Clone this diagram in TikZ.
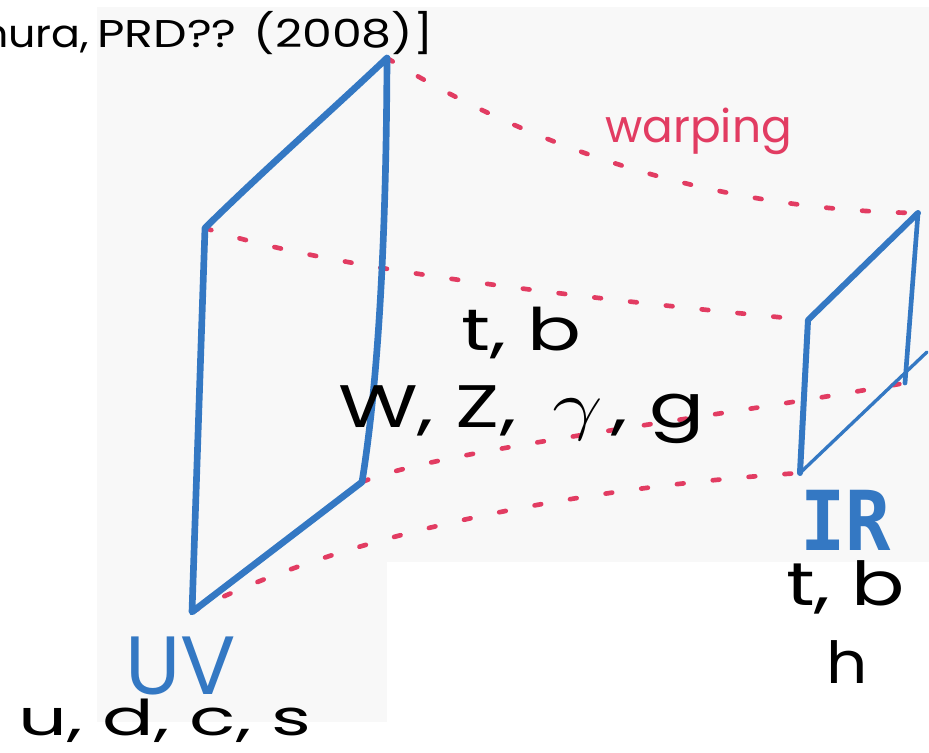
\documentclass[tikz,border=0pt]{standalone}
\usepackage{fontspec}
\setmainfont{Poppins}
\newfontfamily\monofont{DejaVu Sans Mono}
\usepackage{graphicx}
\definecolor{penblue}{RGB}{52,120,195}
\definecolor{penred}{RGB}{226,60,98}
\definecolor{paper}{RGB}{248,248,248}
\begin{document}
\begin{tikzpicture}[x=0.75pt,y=-0.75pt,
  blueline/.style={draw=penblue, line width=5pt, line cap=round, line join=round},
  redline/.style={draw=penred, line width=3.5pt, line cap=round, dash pattern=on 5pt off 22pt},
  lab/.style={inner sep=0pt, anchor=base west, text=black},
]
\useasboundingbox (0,0) rectangle (929,753);
\fill[paper] (97,7) rectangle (929,562);
\fill[paper] (97,562) rectangle (387,722);

\coordinate (uvTL) at (205,228);
\coordinate (uvTR) at (387,58);
\coordinate (uvBR) at (362,482);
\coordinate (uvBL) at (192,612);
\coordinate (irTL) at (808,320);
\coordinate (irTR) at (918,213);
\coordinate (irBR) at (905,383);
\coordinate (irBL) at (800,473);
\coordinate (irEnd) at (927,352);

\draw[redline] (uvTR) .. controls (520,140) and (700,210) .. (irTR);
\draw[redline] (uvTL) .. controls (330,270) and (600,300) .. (irTL);
\draw[redline] (uvBR) .. controls (440,450) and (700,420) .. (irBR);
\draw[redline] (uvBL) .. controls (320,545) and (540,490) .. (irBL);

\draw[blueline] (uvTL) .. controls (266,168) and (330,112) .. (uvTR)
  .. controls (386,300) and (372,420) .. (uvBR) -- (uvBL) -- cycle;
\draw[blueline, line width=4.5pt] (irBL) -- (irTL) -- (irTR);
\draw[blueline, line width=3.5pt] (irTR) -- (irBR);
\draw[blueline, line width=2.5pt] (irBL) -- (irEnd);

\node[lab] (ref) at (97,47) {\fontsize{29}{29}\selectfont\llap{\resizebox{81pt}{\height}{nura,}\hspace{6pt}}\resizebox{252pt}{\height}{PRD?? (2008)]}};
\node[lab] (tbmid) at (461,350) {\fontsize{44}{44}\selectfont\resizebox{90pt}{\height}{t, b}};
\node[lab] (bosons) at (338,427) {\fontsize{45}{45}\selectfont\resizebox{275pt}{\height}{W, Z,\hspace{0.45em}\scalebox{2}{$\gamma$}\hspace{0.1em}, g}};
\node[lab] (light) at (18,735) {\fontsize{37}{38}\selectfont\resizebox{220pt}{\height}{u, d, c, s}};
\node[lab] (tbir) at (786,605) {\fontsize{45.5}{46}\selectfont\resizebox{89pt}{\height}{t, b}};
\node[lab] (higgs) at (826,683) {\fontsize{43.5}{44}\selectfont\resizebox{31pt}{\height}{h}};
\node[lab, text=penblue] (uv) at (125,694) {\fontsize{62}{62}\selectfont\resizebox{83pt}{\height}{UV}};
\node[lab, text=penblue] (ir) at (800,550) {\monofont\bfseries\fontsize{62}{62}\selectfont\resizebox{68pt}{\height}{IR}};
\node[lab, text=penred] (warp) at (605,142) {\fontsize{34}{34}\selectfont\resizebox{140pt}{\height}{warping}};
\end{tikzpicture}
\end{document}
